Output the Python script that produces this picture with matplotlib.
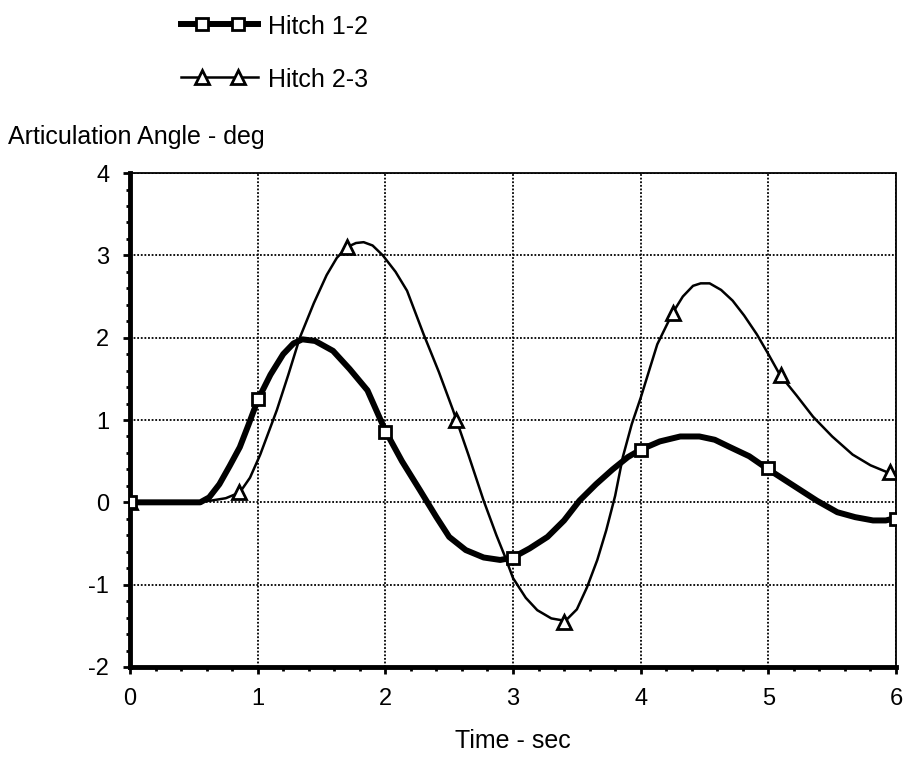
import matplotlib.pyplot as plt
from matplotlib.lines import Line2D
from matplotlib.ticker import MultipleLocator

plt.rcParams['font.family'] = ['Liberation Sans', 'DejaVu Sans']
plt.rcParams['axes.unicode_minus'] = False

# Hitch 1-2 curve
t12 = [0.0, 0.3, 0.55, 0.62, 0.70, 0.78, 0.86, 0.93, 1.0, 1.1, 1.2, 1.28, 1.35, 1.45,
       1.59, 1.72, 1.86, 2.0, 2.13, 2.27, 2.4, 2.5, 2.63, 2.77, 2.9, 3.0, 3.13, 3.27,
       3.4, 3.52, 3.65, 3.78, 3.9, 4.0, 4.15, 4.31, 4.46, 4.58, 4.70, 4.85, 4.99, 5.1,
       5.22, 5.38, 5.54, 5.68, 5.82, 5.92, 6.0]
y12 = [0.0, 0.0, 0.0, 0.06, 0.22, 0.44, 0.67, 0.95, 1.24, 1.55, 1.80, 1.93, 1.98, 1.96,
       1.84, 1.62, 1.36, 0.87, 0.50, 0.15, -0.18, -0.42, -0.58, -0.67, -0.70, -0.67, -0.56, -0.42,
       -0.22, 0.02, 0.22, 0.40, 0.55, 0.64, 0.74, 0.80, 0.80, 0.76, 0.67, 0.56, 0.41, 0.30,
       0.18, 0.02, -0.12, -0.18, -0.22, -0.22, -0.19]
m12_t = [0, 1, 2, 3, 4, 5, 6]
m12_y = [0.0, 1.25, 0.85, -0.68, 0.63, 0.42, -0.2]

# Hitch 2-3 curve
t23 = [0.0, 0.3, 0.5, 0.63, 0.75, 0.86, 0.94, 1.02, 1.15, 1.24, 1.33, 1.44, 1.54, 1.62,
       1.70, 1.77, 1.83, 1.90, 1.98, 2.08, 2.17, 2.30, 2.42, 2.53, 2.65, 2.77, 2.87, 2.94,
       3.0, 3.1, 3.19, 3.30, 3.41, 3.50, 3.58, 3.66, 3.73, 3.80, 3.86, 3.93, 4.0, 4.07,
       4.13, 4.25, 4.33, 4.41, 4.47, 4.54, 4.63, 4.72, 4.81, 4.91, 5.0, 5.09, 5.22,
       5.35, 5.50, 5.66, 5.80, 5.94, 6.0]
y23 = [0.0, 0.0, 0.0, 0.02, 0.05, 0.12, 0.30, 0.58, 1.12, 1.55, 2.0, 2.42, 2.76, 2.97,
       3.10, 3.15, 3.16, 3.12, 3.0, 2.80, 2.57, 2.04, 1.58, 1.12, 0.58, 0.02, -0.40, -0.67,
       -0.92, -1.16, -1.31, -1.41, -1.44, -1.30, -1.03, -0.70, -0.34, 0.08, 0.55, 0.95, 1.27, 1.62,
       1.92, 2.30, 2.50, 2.63, 2.66, 2.66, 2.58, 2.45, 2.27, 2.04, 1.80, 1.55, 1.30,
       1.04, 0.80, 0.58, 0.45, 0.36, 0.34]
m23_t = [0, 0.85, 1.7, 2.55, 3.4, 4.25, 5.1, 5.95]
m23_y = [0.0, 0.13, 3.1, 1.0, -1.45, 2.3, 1.55, 0.37]

labels = ['Hitch 1-2', 'Hitch 2-3']

W, H = 906, 767
fig = plt.figure(figsize=(W / 100, H / 100), dpi=100)
ax = fig.add_axes([0.1435, 0.1304, 0.8455, 0.644])

thin = dict(color='black', lw=1.8)
thick = dict(color='black', lw=4.3)
sq = dict(marker='s', ms=9, mfc='white', mec='black', mew=2)
tri = dict(marker='^', ms=10, mfc='white', mec='black', mew=2)

ax.plot(t23, y23, zorder=3, **thin)
ax.plot(t12, y12, solid_capstyle='round', zorder=4, **thick)
ax.plot(m23_t, m23_y, ls='none', zorder=5, **tri)
ax.plot(m12_t, m12_y, ls='none', zorder=6, **sq)

ax.set_xlim(0, 6)
ax.set_ylim(-2, 4)
ax.xaxis.set_major_locator(MultipleLocator(1))
ax.xaxis.set_minor_locator(MultipleLocator(0.2))
ax.yaxis.set_major_locator(MultipleLocator(1))
ax.yaxis.set_minor_locator(MultipleLocator(0.2))
ax.grid(True, which='major', color='black', ls=(0, (1, 1)), lw=1.3)
ax.tick_params(which='both', direction='out', labelsize=17, color='black')
ax.tick_params(which='major', length=5, width=2, pad=10)
ax.tick_params(which='minor', length=3, width=2)
for s in ['left', 'bottom']:
    ax.spines[s].set_linewidth(3.5)
for s in ['top', 'right']:
    ax.spines[s].set_linestyle((0, (1, 1)))
    ax.spines[s].set_linewidth(1.3)

ax.set_xlabel('Time - sec', fontsize=18, labelpad=14)
fig.text(8 / W, 1 - 137 / H, 'Articulation Angle - deg', fontsize=18, ha='left', va='center')

# legend drawn by hand: line runs past the two markers
for i, (lbl, lw_style, mk) in enumerate(zip(labels, [thick, thin], [sq, tri])):
    yy = 1 - (24 + 53 * i) / H
    fig.add_artist(Line2D([181 / W, 258 / W], [yy, yy], transform=fig.transFigure, **lw_style))
    fig.add_artist(Line2D([202 / W, 238 / W], [yy, yy], transform=fig.transFigure, ls='none', **mk))
    fig.text(268 / W, yy - 3 / H, lbl, fontsize=18, ha='left', va='center')

fig.savefig('out.png', dpi=100)
